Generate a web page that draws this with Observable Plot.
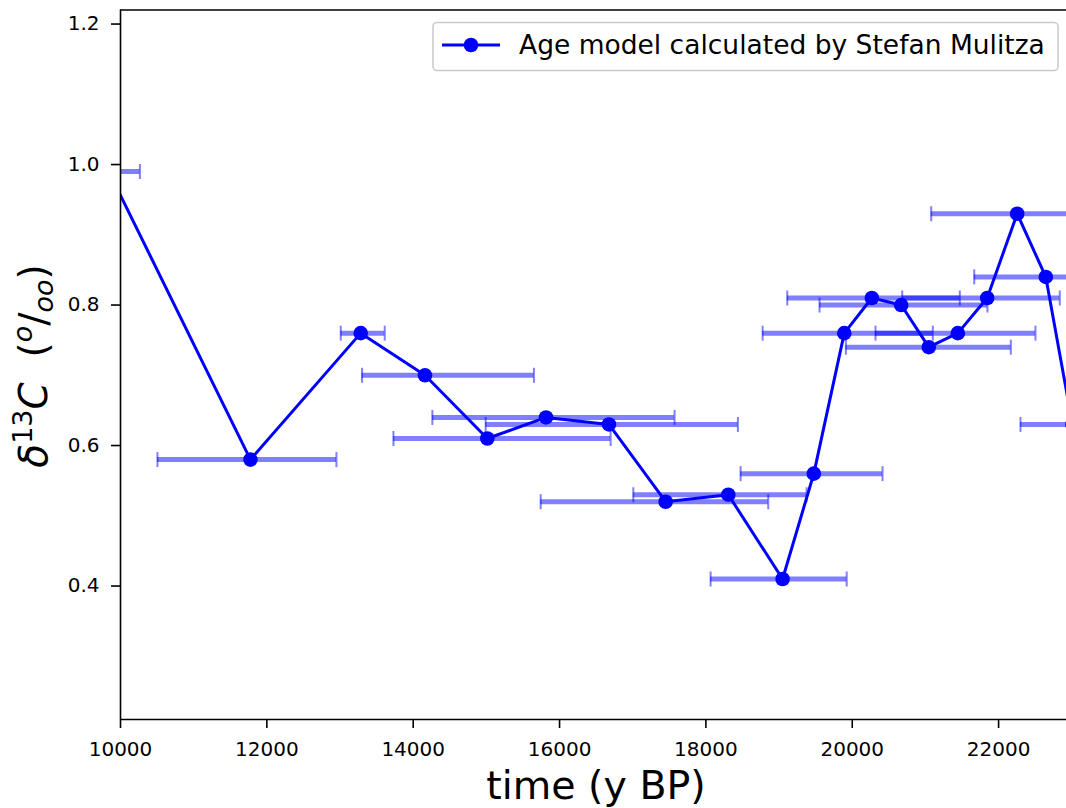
<!DOCTYPE html>
<html><head><meta charset="utf-8">
<script src="https://cdn.jsdelivr.net/npm/d3@7"></script>
<script src="https://cdn.jsdelivr.net/npm/@observablehq/plot@0.6"></script>
<style>
html,body{margin:0;padding:0;background:#fff;overflow:hidden;}
#chart svg{display:block;}
</style></head><body><div id="chart"></div>
<script>
// Data
const ageT  = [9840, 11776, 13283, 14161, 15013, 15815, 16675, 17450, 18306, 19048, 19475, 19891, 20268, 20669, 21046, 21443, 21844, 22254, 22645, 23010];
const d13C  = [0.99, 0.58, 0.76, 0.70, 0.61, 0.64, 0.63, 0.52, 0.53, 0.41, 0.56, 0.76, 0.81, 0.80, 0.74, 0.76, 0.81, 0.93, 0.84, 0.63];
const errLo = [9415, 10505, 13010, 13301, 13730, 14262, 14990, 15742, 17008, 18064, 18474, 18775, 19112, 19553, 19913, 20318, 20683, 21079, 21667, 22299];
const errHi = [10265, 12951, 13611, 15650, 16698, 17572, 18437, 18852, 19376, 19924, 20414, 21101, 21470, 21848, 22167, 22504, 22836, 23430, 23620, 23720];
const xTicks = [10000, 12000, 14000, 16000, 18000, 20000, 22000];
const yTicks = [0.4, 0.6, 0.8, 1.0, 1.2];
const xDomain = [10000, 22928];
const yDomain = [0.21, 1.22];
const legendLabel = "Age model calculated by Stefan Mulitza";
const xLabel = "time (y BP)";

const rows = ageT.map((t, i) => ({t, v: d13C[i], lo: errLo[i], hi: errHi[i]}));
const BLUE = "#0000ff";
const capSymbol = {draw(ctx, size) { const r = Math.sqrt(size / Math.PI); ctx.moveTo(0, -r); ctx.lineTo(0, r); }};

const W = 1066, H = 808;
const chart = Plot.plot({
  width: W, height: H,
  marginLeft: 120, marginRight: 0, marginTop: 9.5, marginBottom: 89,
  style: {fontFamily: "DejaVu Sans", fontSize: "20px", color: "black", background: "white"},
  x: {domain: xDomain, ticks: xTicks, tickSize: 9, tickPadding: 13, tickFormat: d3.format("d"), label: null},
  y: {domain: yDomain, ticks: yTicks, tickSize: 9, tickPadding: 12, tickFormat: d3.format(".1f"), label: null},
  marks: [
    Plot.ruleY(rows, {y: "v", x1: "lo", x2: "hi", stroke: BLUE, strokeOpacity: 0.5, strokeWidth: 5, clip: true}),
    Plot.dot(rows, {x: "lo", y: "v", symbol: capSymbol, r: 7.5, stroke: BLUE, strokeOpacity: 0.5, strokeWidth: 2, fill: "none", clip: true}),
    Plot.dot(rows, {x: "hi", y: "v", symbol: capSymbol, r: 7.5, stroke: BLUE, strokeOpacity: 0.5, strokeWidth: 2, fill: "none", clip: true}),
    Plot.line(rows, {x: "t", y: "v", stroke: BLUE, strokeWidth: 3, clip: true}),
    Plot.dot(rows, {x: "t", y: "v", r: 7.3, fill: BLUE, stroke: "none", clip: true}),
    Plot.ruleX([xDomain[0]], {stroke: "black", strokeWidth: 1.6}),
    Plot.ruleY([yDomain[0]], {stroke: "black", strokeWidth: 1.6}),
    Plot.ruleY([yDomain[1]], {stroke: "black", strokeWidth: 1.6})
  ]
});
document.getElementById("chart").appendChild(chart);

const svg = d3.select(chart);
svg.selectAll("g[aria-label$='axis'] path, g[aria-label*='tick'] path").attr("stroke-width", 1.6);

// x label
svg.append("text")
  .attr("x", 596).attr("y", 799)
  .attr("text-anchor", "middle")
  .attr("font-family", "DejaVu Sans").attr("font-size", 39.5).attr("fill", "black")
  .text(xLabel);

// y label: δ^13C  (^o/_oo)
const yl = svg.append("text")
  .attr("transform", "translate(46.5,366) rotate(-90)")
  .attr("text-anchor", "middle")
  .attr("font-family", "DejaVu Sans").attr("font-size", 39).attr("fill", "black");
yl.append("tspan").attr("font-style", "italic").text("δ");
yl.append("tspan").attr("font-size", 27).attr("dy", -15).text("13");
yl.append("tspan").attr("font-style", "italic").attr("dy", 15).text("C");
yl.append("tspan").text("\u00a0\u00a0(");
yl.append("tspan").attr("font-style", "italic").attr("font-size", 27).attr("dy", -15).text("o");
yl.append("tspan").attr("dy", 15).text("/");
yl.append("tspan").attr("font-style", "italic").attr("font-size", 27).attr("dy", 6).text("oo");
yl.append("tspan").attr("dy", -6).text(")");

// legend
const lg = svg.append("g");
lg.append("rect").attr("x", 433).attr("y", 22.5).attr("width", 625).attr("height", 48).attr("rx", 4)
  .attr("fill", "white").attr("fill-opacity", 0.8).attr("stroke", "#cccccc").attr("stroke-width", 1.6);
lg.append("line").attr("x1", 442).attr("x2", 500).attr("y1", 45).attr("y2", 45).attr("stroke", BLUE).attr("stroke-width", 3);
lg.append("circle").attr("cx", 471).attr("cy", 45).attr("r", 7.3).attr("fill", BLUE);
lg.append("text").attr("x", 519).attr("y", 54).attr("text-anchor", "start")
  .attr("font-family", "DejaVu Sans").attr("font-size", 26.5).attr("fill", "black").text(legendLabel);
</script>
</body></html>
